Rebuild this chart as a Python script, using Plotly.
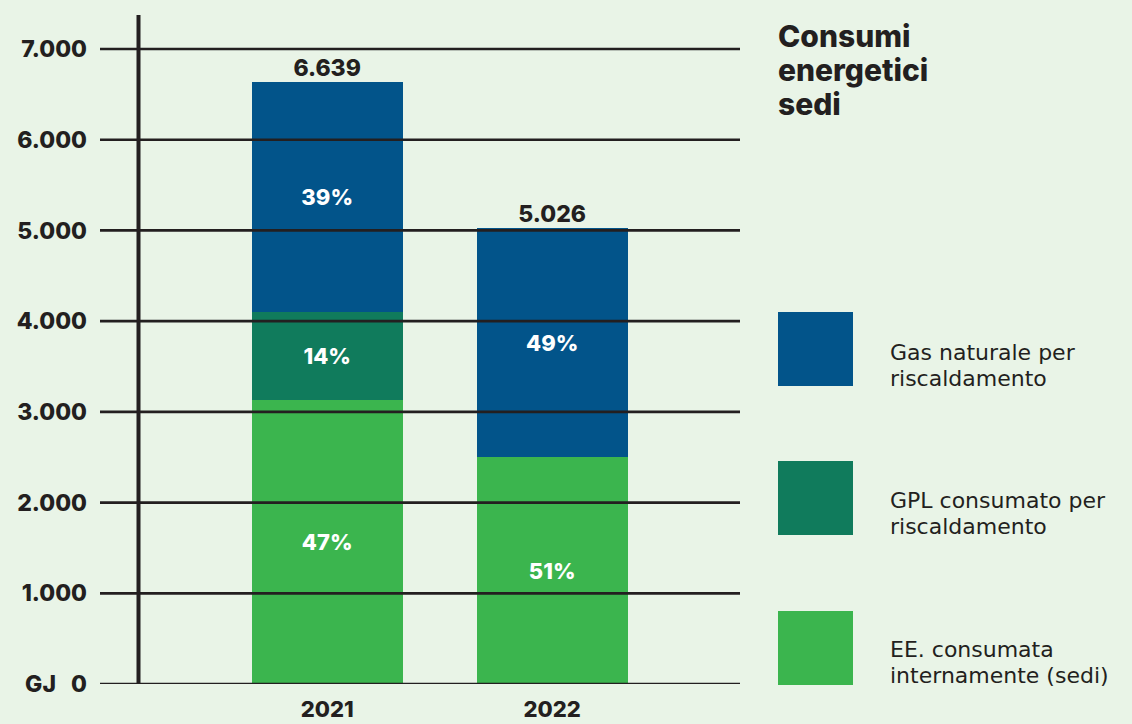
import plotly.graph_objects as go

# ---- data ----
years = ["2021", "2022"]
ee_sedi = [3128, 2502]          # EE. consumata internamente (sedi)
gpl = [972, 0]                  # GPL consumato per riscaldamento
gas = [2539, 2524]              # Gas naturale per riscaldamento
pct_ee = ["47%", "51%"]
pct_gpl = ["14%", ""]
pct_gas = ["39%", "49%"]
totals = [a + b + c for a, b, c in zip(ee_sedi, gpl, gas)]
y_ticks = [0, 1000, 2000, 3000, 4000, 5000, 6000, 7000]
y_ticktext = ["GJ   0", "1.000", "2.000", "3.000", "4.000", "5.000", "6.000", "7.000"]
legend_lines = [["Gas naturale per", "riscaldamento"],
                ["GPL consumato per", "riscaldamento"],
                ["EE. consumata", "internamente (sedi)"]]
title_lines = ["Consumi", "energetici", "sedi"]

# ---- style ----
BG = "#E9F4E7"
INK = "#231F20"
C_GAS = "#02548A"
C_GPL = "#107B5C"
C_EE = "#3BB54E"
FONT = "Inter"
FONT_LEG = "DejaVu Sans"

W, H = 1132, 724
L, R, T, B = 100, 392, 15, 40
PW, PH = W - L - R, H - T - B


def px_x(px):
    return (px - L) / PW


def px_y(py):
    return (H - B - py) / PH


fig = go.Figure()
bar_common = dict(width=0.671, textposition="inside", insidetextanchor="middle",
                  textangle=0, constraintext="none", hoverinfo="skip",
                  textfont=dict(family=FONT, size=22, color="white", weight=800),
                  marker_line_width=0)
fig.add_trace(go.Bar(x=years, y=ee_sedi, marker_color=C_EE, text=pct_ee, name="EE", **bar_common))
fig.add_trace(go.Bar(x=years, y=gpl, marker_color=C_GPL, text=pct_gpl, name="GPL", **bar_common))
fig.add_trace(go.Bar(x=years, y=gas, marker_color=C_GAS, text=pct_gas, name="Gas", **bar_common))

fig.add_trace(go.Scatter(
    x=years, y=totals, mode="text",
    text=[f"{v:,}".replace(",", ".") for v in totals],
    textposition="top center", hoverinfo="skip",
    textfont=dict(family=FONT, size=23, color=INK, weight=800),
))

shapes = []
# horizontal reference lines at tick values (drawn over bars)
for v in y_ticks:
    shapes.append(dict(type="line", xref="paper", yref="y", x0=0, x1=1, y0=v, y1=v,
                       line=dict(color=INK, width=2.7), layer="above"))
# vertical axis line
shapes.append(dict(type="line", xref="paper", yref="paper", x0=px_x(138.5), x1=px_x(138.5),
                   y0=0, y1=1, line=dict(color=INK, width=4), layer="above"))

annotations = []
title_baselines = [46, 80, 114]
for txt, base in zip(title_lines, title_baselines):
    annotations.append(dict(text=txt, xref="paper", yref="paper", x=px_x(776),
                            y=px_y(base - 10.5), xanchor="left", yanchor="middle",
                            align="left", showarrow=False,
                            font=dict(family=FONT, size=30, color=INK, weight=800)))

legend_colors = [C_GAS, C_GPL, C_EE]
legend_tops = [312, 461, 611]
legend_baselines = [(360, 386), (508, 534), (657, 683)]
for lines, col, top, bases in zip(legend_lines, legend_colors, legend_tops, legend_baselines):
    shapes.append(dict(type="rect", xref="paper", yref="paper",
                       x0=px_x(778), x1=px_x(853), y0=px_y(top), y1=px_y(top + 74),
                       fillcolor=col, line_width=0))
    for txt, base in zip(lines, bases):
        annotations.append(dict(text=txt, xref="paper", yref="paper", x=px_x(888),
                                y=px_y(base - 8), xanchor="left", yanchor="middle",
                                align="left", showarrow=False,
                                font=dict(family=FONT_LEG, size=22, color=INK)))

fig.update_layout(
    width=W, height=H, barmode="stack", showlegend=False,
    paper_bgcolor=BG, plot_bgcolor=BG,
    margin=dict(l=L, r=R, t=T, b=B, pad=0, autoexpand=False),
    shapes=shapes, annotations=annotations,
    xaxis=dict(type="category", range=[-1.0098, 1.8347], showgrid=False, zeroline=False,
               showline=False, ticks="", ticklabelstandoff=10, automargin=False,
               tickfont=dict(family=FONT, size=22, color=INK, weight=800)),
    yaxis=dict(range=[0, 7375], tickvals=y_ticks, ticktext=y_ticktext, showgrid=False,
               zeroline=False, showline=False, ticks="", ticklabelstandoff=12, automargin=False,
               tickfont=dict(family=FONT, size=23, color=INK, weight=800)),
    uniformtext=dict(mode=False),
)

fig.write_html("out.html", config={"displayModeBar": False},
               post_script="document.body.style.margin='0';")
